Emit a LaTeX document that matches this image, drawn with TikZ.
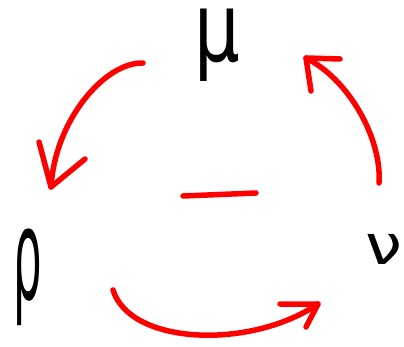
\documentclass[tikz,border=0pt]{standalone}
\usepackage{fontspec}
\newfontfamily\greekfont{DejaVu Sans}
\begin{document}
\begin{tikzpicture}[x=1pt,y=-1pt,
  stroke/.style={red,line width=5.5pt,line cap=round,line join=round},
  letter/.style={inner sep=0pt,anchor=base}]
\useasboundingbox[fill=white] (0,0) rectangle (404,347);
% letters
\node[letter,font=\greekfont\fontsize{80}{80}\selectfont] (mu) at (217,62) {\scalebox{0.9}[1.2]{μ}};
\node[letter,font=\greekfont\fontsize{90}{90}\selectfont] (rho) at (28,299) {\scalebox{0.5}[1.4]{ρ}};
\node[letter,font=\greekfont\fontsize{55}{55}\selectfont] (nu) at (384,265) {\scalebox{1.2}[1]{ν}};
% minus sign
\coordinate (m1) at (183,196);
\coordinate (m2) at (256,193);
\draw[stroke] (m1) -- (m2);
% arrow mu -> rho
\coordinate (a1s) at (143,63);
\coordinate (a1e) at (51,187);
\draw[stroke] (a1s) .. controls (105,62) and (55,120) .. (a1e);
\draw[stroke] (39,142) -- (a1e) -- (85,159);
% arrow nu -> mu
\coordinate (a2s) at (379,183);
\coordinate (a2e) at (306,58);
\draw[stroke] (a2s) .. controls (382,140) and (350,80) .. (a2e);
\draw[stroke] (340,59) -- (a2e) -- (311,91);
% arrow rho -> nu
\coordinate (a3s) at (113,290);
\coordinate (a3e) at (318,304);
\draw[stroke] (a3s) .. controls (130,345) and (250,350) .. (a3e);
\draw[stroke] (280,304) -- (a3e) -- (306,327);
\end{tikzpicture}
\end{document}
